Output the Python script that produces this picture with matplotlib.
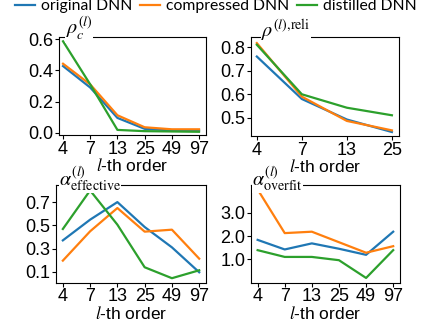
import matplotlib
matplotlib.use("Agg")
import matplotlib.pyplot as plt

plt.rcParams['font.family'] = ['Liberation Sans', 'DejaVu Sans']
plt.rcParams['mathtext.fontset'] = 'stix'

# data
orders6 = ['4', '7', '13', '25', '49', '97']
orders4 = ['4', '7', '13', '25']

rho_c_orig = [0.428, 0.29, 0.095, 0.025, 0.015, 0.015]
rho_c_comp = [0.443, 0.31, 0.112, 0.035, 0.022, 0.022]
rho_c_dist = [0.587, 0.31, 0.018, 0.01, 0.008, 0.006]

reli_orig = [0.76, 0.58, 0.493, 0.44]
reli_comp = [0.817, 0.59, 0.487, 0.447]
reli_dist = [0.81, 0.60, 0.543, 0.511]

eff_orig = [0.371, 0.549, 0.70, 0.486, 0.311, 0.097]
eff_comp = [0.197, 0.449, 0.649, 0.446, 0.463, 0.214]
eff_dist = [0.469, 0.80, 0.506, 0.14, 0.046, 0.114]

ovf_orig = [1.84, 1.43, 1.69, 1.46, 1.2, 2.19]
ovf_comp = [4.0, 2.13, 2.19, 1.74, 1.29, 1.57]
ovf_dist = [1.4, 1.11, 1.11, 0.97, 0.21, 1.4]

names = ['original DNN', 'compressed DNN', 'distilled DNN']
colors = ['#1f77b4', '#ff7f0e', '#2ca02c']

fig = plt.figure(figsize=(4.31, 3.27), dpi=100)
ax_tl = fig.add_axes([0.137, 0.587, 0.341, 0.300])
ax_tr = fig.add_axes([0.582, 0.584, 0.344, 0.303])
ax_bl = fig.add_axes([0.130, 0.135, 0.348, 0.300])
ax_br = fig.add_axes([0.582, 0.135, 0.346, 0.300])
# upper xlabels should sit on top of the lower titles
ax_tl.set_zorder(2)
ax_tr.set_zorder(2)

panels = [
    (ax_tl, orders6, [rho_c_orig, rho_c_comp, rho_c_dist], r'$\rho_c^{(l)}$',
     (-0.015, 0.615), [0.0, 0.2, 0.4, 0.6], (-0.147, 5.257), (0.045, 1.02)),
    (ax_tr, orders4, [reli_orig, reli_comp, reli_dist], r'$\rho^{(l){,}\mathrm{reli}}$',
     (0.423, 0.843), [0.5, 0.6, 0.7, 0.8], (-0.133, 3.16), (0.07, 1.0)),
    (ax_bl, orders6, [eff_orig, eff_comp, eff_dist], r'$\alpha_{\mathrm{effective}}^{(l)}$',
     (0.006, 0.849), [0.1, 0.3, 0.5, 0.7], (-0.25, 5.25), (0.02, 0.99)),
    (ax_br, orders6, [ovf_orig, ovf_comp, ovf_dist], r'$\alpha_{\mathrm{overfit}}^{(l)}$',
     (0.0, 4.2), [1.0, 2.0, 3.0], (-0.25, 5.25), (0.01, 0.99)),
]

for ax, cats, series, title, ylim, yticks, xlim, tpos in panels:
    xs = range(len(cats))
    for vals, c, n in zip(series, colors, names):
        ax.plot(xs, vals, color=c, lw=1.6, label=n)
    ax.set_xticks(list(xs))
    ax.set_xticklabels(cats)
    ax.set_yticks(yticks)
    ax.set_yticklabels(['%.1f' % t for t in yticks])
    ax.set_ylim(ylim)
    ax.set_xlim(xlim)
    ax.tick_params(labelsize=13, length=3, pad=1)
    ax.set_xlabel(r'$l$-th order', fontsize=12.5, labelpad=-0.5)
    ax.text(tpos[0], tpos[1], title, transform=ax.transAxes, fontsize=14.5,
            va='baseline', ha='left',
            bbox=dict(facecolor='white', edgecolor='none', pad=0.2))

handles, labels = ax_tl.get_legend_handles_labels()
fig.legend(handles, labels, loc='upper center', bbox_to_anchor=(0.5, 1.045),
           ncol=3, frameon=False, handlelength=1.3,
           handletextpad=0.35, columnspacing=0.5, prop={'family': 'Lato', 'size': 11.3})

fig.savefig('out.png', dpi=100)
